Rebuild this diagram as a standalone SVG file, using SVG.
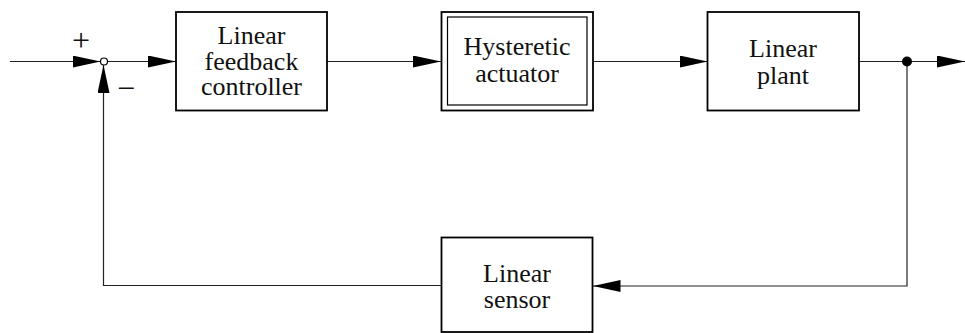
<svg xmlns="http://www.w3.org/2000/svg" width="965" height="333" viewBox="0 0 965 333">
<style>
.box{fill:#fff;stroke:#000;stroke-width:1.8}
.ln{fill:none;stroke:#222;stroke-width:1.2}
text{font-family:"Liberation Serif","Times New Roman","DejaVu Serif",serif;fill:#111;text-anchor:middle}
.t{font-size:26px}
.s{font-size:32px}
</style>
<defs>
<marker id="ah" viewBox="0 0 28 12" refX="28" refY="6" markerWidth="28" markerHeight="12" markerUnits="userSpaceOnUse" orient="auto">
<path d="M0,0 L28,6 L0,12 Z" fill="#000"/>
</marker>
</defs>
<g id="connectors">
<line class="ln" x1="10" y1="61.5" x2="100.5" y2="61.5" marker-end="url(#ah)"/>
<line class="ln" x1="107.5" y1="61.5" x2="176" y2="61.5" marker-end="url(#ah)"/>
<line class="ln" x1="327" y1="61.5" x2="441" y2="61.5" marker-end="url(#ah)"/>
<line class="ln" x1="593" y1="61.5" x2="707.5" y2="61.5" marker-end="url(#ah)"/>
<line class="ln" x1="859" y1="61.5" x2="965" y2="61.5" marker-end="url(#ah)"/>
<polyline class="ln" points="907,61.5 907,286 592.5,286" marker-end="url(#ah)"/>
<polyline class="ln" points="441.5,285.5 103.5,285.5 103.5,65" marker-end="url(#ah)"/>
<circle cx="907" cy="61.5" r="5" fill="#000"/>
</g>
<g id="sum" font-family="Liberation Serif, Times New Roman, serif">
<circle cx="104" cy="61.5" r="3.5" fill="#fff" stroke="#000" stroke-width="1.2"/>
<text class="s" x="81" y="51">+</text>
<text class="s" x="126" y="99">−</text>
</g>
<g id="controller" font-family="Liberation Serif, Times New Roman, serif">
<rect class="box" x="176" y="12" width="151" height="98.5"/>
<text class="t" x="251.5" y="44">Linear</text>
<text class="t" x="251.5" y="69.5">feedback</text>
<text class="t" x="251.5" y="95">controller</text>
</g>
<g id="actuator" font-family="Liberation Serif, Times New Roman, serif">
<rect class="box" x="441.5" y="12" width="151.5" height="98.5"/>
<rect x="447.5" y="17" width="139.5" height="88" fill="none" stroke="#000" stroke-width="1.2"/>
<text class="t" x="517" y="55">Hysteretic</text>
<text class="t" x="517" y="81.5">actuator</text>
</g>
<g id="plant" font-family="Liberation Serif, Times New Roman, serif">
<rect class="box" x="707.5" y="12" width="151.5" height="98.5"/>
<text class="t" x="783" y="57">Linear</text>
<text class="t" x="783" y="83.5">plant</text>
</g>
<g id="sensor" font-family="Liberation Serif, Times New Roman, serif">
<rect class="box" x="441.5" y="237.5" width="151" height="94.5"/>
<text class="t" x="517" y="282">Linear</text>
<text class="t" x="517" y="308">sensor</text>
</g>
</svg>
